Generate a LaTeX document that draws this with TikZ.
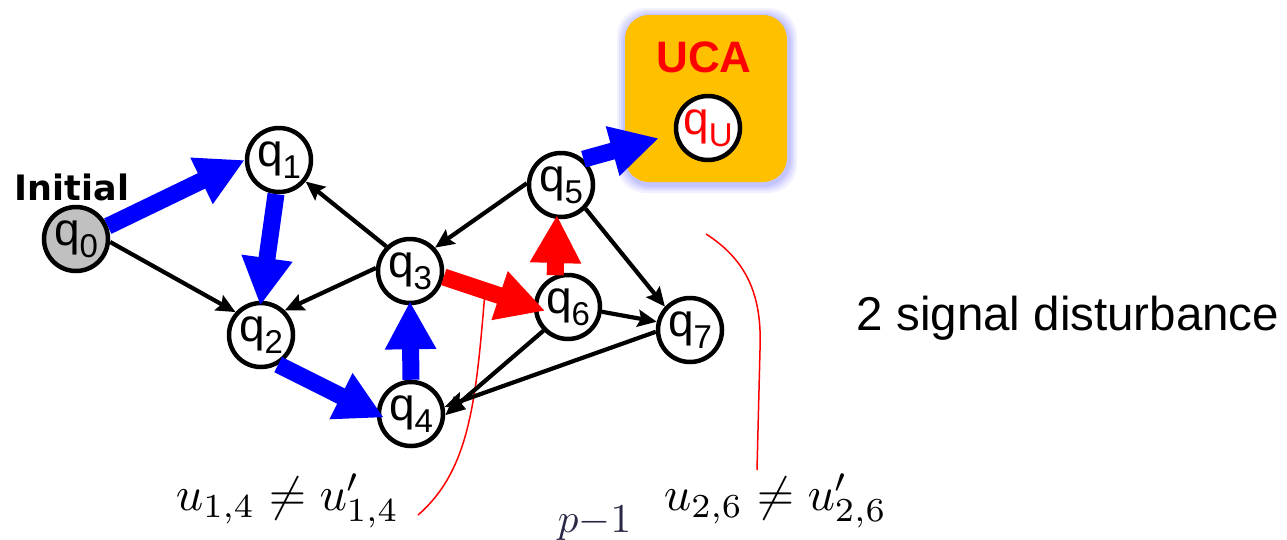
\documentclass[tikz,border=0pt]{standalone}
\usepackage{fontspec}
\usepackage{graphicx}
\newfontfamily\arialf{Liberation Sans}
\newfontfamily\dejaf{DejaVu Sans}
\usetikzlibrary{arrows.meta,calc}
\definecolor{ucaorange}{RGB}{255,192,0}
\definecolor{glowc}{RGB}{150,150,255}
\definecolor{pcol}{RGB}{40,40,70}
\definecolor{qgray}{RGB}{192,192,192}
\newcommand\qlab[1]{q\raisebox{-12pt}{\fontsize{33}{33}\selectfont #1}}
\begin{document}
\begin{tikzpicture}[x=1pt,y=-1pt,
  state/.style={circle,draw=black,line width=4.5pt,minimum size=64pt,inner sep=0pt,fill=white,
    font=\arialf\fontsize{46}{46}\selectfont},
  blk/.style={draw=black,line width=4.2pt,-{Stealth[length=19pt,width=17pt,inset=3pt]}},
  bigblue/.style={draw=blue,line width=17pt,-{Triangle[length=48pt,width=48pt]}},
  bigred/.style={draw=red,line width=17pt,-{Triangle[length=48pt,width=48pt]}},
  thinred/.style={draw=red,line width=1.5pt},
  mathlab/.style={inner sep=0pt,anchor=base}
]
\useasboundingbox (0,0) rectangle (1287,539);
% UCA box with glow
\foreach \g/\o in {9/0.12,7/0.16,5/0.2,3/0.25}{
  \fill[glowc,opacity=\o,rounded corners=28pt] (625-\g+1,15-\g+2) rectangle (787+\g+1,182+\g+2);
}
\fill[ucaorange,rounded corners=24pt] (625,15) rectangle (787,182);
\node[anchor=base,text=red,font=\arialf\bfseries\fontsize{44}{44}\selectfont,inner sep=0pt] (uca) at (704,72) {UCA};

% states
\node[state,fill=qgray] (q0) at (76,239) {\qlab{0}};
\node[state] (q1) at (279,160) {\qlab{1}};
\node[state] (q2) at (261,335) {\qlab{2}};
\node[state] (q3) at (410,271) {\qlab{3}};
\node[state] (q4) at (411,414) {\qlab{4}};
\node[state] (q5) at (561,185) {\qlab{5}};
\node[state] (q6) at (568,307) {\qlab{6}};
\node[state] (q7) at (690,330) {\qlab{7}};
\node[state,text=red] (qU) at (708,128) {\qlab{U}};

% labels
\node[anchor=base,font=\dejaf\bfseries\fontsize{35}{35}\selectfont,inner sep=0pt] (init) at (72,200) {Initial};
\node[anchor=base,font=\arialf\fontsize{47.5}{48}\selectfont,inner sep=0pt] (dist) at (1068,330) {2 signal disturbance};
\node[mathlab] (l14) at (287.5,510) {\scalebox{4.8}{$u_{1,4}\neq u'_{1,4}$}};
\node[mathlab] (l26) at (775.5,510) {\scalebox{4.8}{$u_{2,6}\neq u'_{2,6}$}};
\node[mathlab,text=pcol] (pm1) at (594.5,532) {\scalebox{4.1}{$p{-}1$}};

% thin red curves
\coordinate (r1a) at (485,292);
\coordinate (r1b) at (418,515);
\coordinate (r2a) at (706,234);
\coordinate (r2m) at (760,350);
\coordinate (r2b) at (757,470);
\draw[thinred] (r1a) .. controls (476,400) and (470,470) .. (r1b);
\draw[thinred] (r2a) .. controls (750,262) and (762,300) .. (r2m) -- (r2b);

% black arrows
\draw[blk] (q0.-5) -- (q2.138);
\draw[blk] (q3.134) -- (q1.-39);
\draw[blk] (q3.175) -- (q2.46);
\draw[blk] (q5.177) -- (q3.43);
\draw[blk] (q5.-44) -- (q7.137);
\draw[blk] (q6.-8) -- (q7.166);
\draw[blk] (q6.224) -- (q4.-2);
\draw[blk] (q7.183) -- (q4.12);

% thick arrows
\draw[bigblue] (q0.22) -- (q1.180);
\draw[bigblue,shorten >=-5pt] (q1.265) -- (q2.north);
\draw[bigblue,shorten >=-8pt] (q2.-60) -- (q4.west);
\draw[bigblue,shorten >=-4pt] (q4.north) -- (q3.south);
\draw[bigblue,shorten >=16pt] (q5.49) -- (qU.190);
\draw[bigred,shorten >=-12pt] (q3.-10) -- (q6.west);
\draw[bigred,shorten >=-4pt] (q6.112) -- (q5.263);
\end{tikzpicture}
\end{document}
